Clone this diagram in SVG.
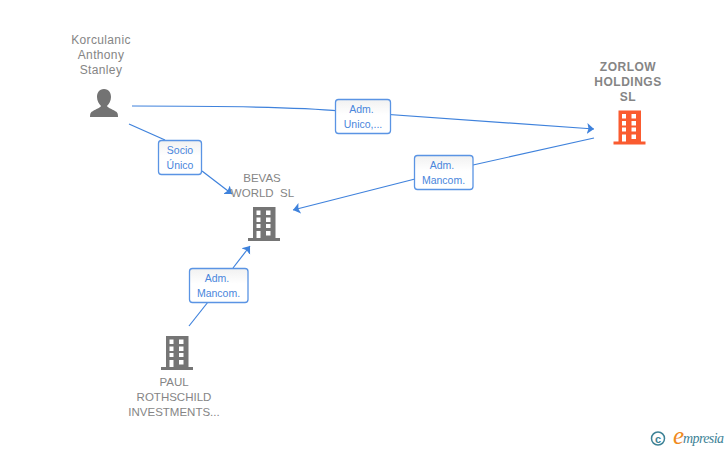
<svg xmlns="http://www.w3.org/2000/svg" width="728" height="450" viewBox="0 0 728 450">
<style>
text{font-family:"Liberation Sans",Arial,sans-serif}
.n{font-size:12px;fill:#858585;text-anchor:middle;letter-spacing:.35px}
.c{font-size:11.5px;letter-spacing:0}
.b{font-weight:bold;font-size:12px;letter-spacing:.5px}
.l{font-size:10.5px;fill:#4a86dc;text-anchor:middle}
.e{fill:none;stroke:#3f82dc;stroke-width:1.2}
.box{fill:url(#g);stroke:#5a94e4;stroke-width:1.3}
</style>
<defs>
<linearGradient id="g" x1="0" y1="0" x2="0" y2="1"><stop offset="0" stop-color="#f1f1f1"/><stop offset=".45" stop-color="#fff"/></linearGradient>
<marker id="a" markerUnits="userSpaceOnUse" markerWidth="12" markerHeight="14" refX="7" refY="6" orient="auto"><path d="M0 .5L7 6L0 11.500L1.500 6Z" fill="#3f82dc"/></marker>
<symbol id="bld" viewBox="0 0 32 34" width="32" height="34" overflow="visible">
<path fill-rule="evenodd" d="M5 0H27.500V31H32V34H0V31H5ZM8.500 3.500V8H12.500V3.500ZM18 3.500V8H22.500V3.500ZM8.500 10.500V15H12.500V10.500ZM18 10.500V15H22.500V10.500ZM8.500 17V21H12.500V17ZM18 17V21H22.500V17ZM8.500 24V31H12.500V24ZM18 24V28.500H22.500V24Z"/>
</symbol>
</defs>
<rect width="728" height="450" fill="#fff"/>
<g id="connectors">
<path class="e" marker-end="url(#a)" d="M132 106C220 106 300 107 340 111L594 129"/>
<path class="e" d="M129 124L165 140"/>
<path class="e" marker-end="url(#a)" d="M202 171L232 194"/>
<path class="e" d="M594 138L473 165"/>
<path class="e" marker-end="url(#a)" d="M415 179L293 210"/>
<path class="e" d="M189 326L208 302"/>
<path class="e" marker-end="url(#a)" d="M233 268L250 246"/>
</g>
<g id="person-korculanic">
<text class="n"><tspan x="101" y="44">Korculanic</tspan><tspan x="101" y="59">Anthony</tspan><tspan x="101" y="74">Stanley</tspan></text>
<path fill="#737373" d="M104 89C99 89 97 93 97 97C97 101 99 104 101 106C100 108 96 109 93 111C91 112 90 113 90 117H118C118 113 117 112 115 111C112 109 108 108 107 106C109 104 111 101 111 97C111 93 109 89 104 89Z"/>
</g>
<g id="node-zorlow">
<text class="n b"><tspan x="628" y="71">ZORLOW</tspan><tspan x="628" y="86">HOLDINGS</tspan><tspan x="628" y="101">SL</tspan></text>
<use href="#bld" x="613.500" y="110.500" fill="#fa5b30"/>
</g>
<g id="node-bevas">
<text class="n c"><tspan x="262" y="182">BEVAS</tspan><tspan x="262.500" y="197" xml:space="preserve">WORLD  SL</tspan></text>
<use href="#bld" x="248" y="207" fill="#757575"/>
</g>
<g id="node-paul">
<use href="#bld" x="161" y="336" fill="#757575"/>
<text class="n c"><tspan x="174" y="386">PAUL</tspan><tspan x="174" y="401">ROTHSCHILD</tspan><tspan x="174" y="416">INVESTMENTS...</tspan></text>
</g>
<g id="label-socio">
<rect class="box" x="158.500" y="140.500" width="43" height="34" rx="3"/>
<text class="l"><tspan x="180" y="154">Socio</tspan><tspan x="180" y="169">Único</tspan></text>
</g>
<g id="label-unico">
<rect class="box" x="335.500" y="99.500" width="55" height="34" rx="3"/>
<text class="l"><tspan x="361.500" y="113">Adm.</tspan><tspan x="363" y="128">Unico,...</tspan></text>
</g>
<g id="label-mancom-right">
<rect class="box" x="414.500" y="155.500" width="58.500" height="34" rx="3"/>
<text class="l"><tspan x="442" y="169">Adm.</tspan><tspan x="443.500" y="184">Mancom.</tspan></text>
</g>
<g id="label-mancom-lower">
<rect class="box" x="189.500" y="268.500" width="58.500" height="34" rx="3"/>
<text class="l"><tspan x="217" y="282">Adm.</tspan><tspan x="218.500" y="297">Mancom.</tspan></text>
</g>
<g id="logo">
<circle cx="658" cy="438.500" r="6.500" fill="none" stroke="#3d8296" stroke-width="1.500"/>
<text x="658" y="442.500" font-size="11" font-weight="bold" fill="#3d8296" text-anchor="middle">c</text>
<text x="678.500" y="444" font-size="25" font-style="italic" fill="#f08a1d" text-anchor="middle" style="font-family:'Liberation Serif',serif">e</text>
<text x="683" y="443" font-size="14" font-style="italic" fill="#3d8296" style="font-family:'Liberation Serif',serif" textLength="41">mpresia</text>
</g>
</svg>
